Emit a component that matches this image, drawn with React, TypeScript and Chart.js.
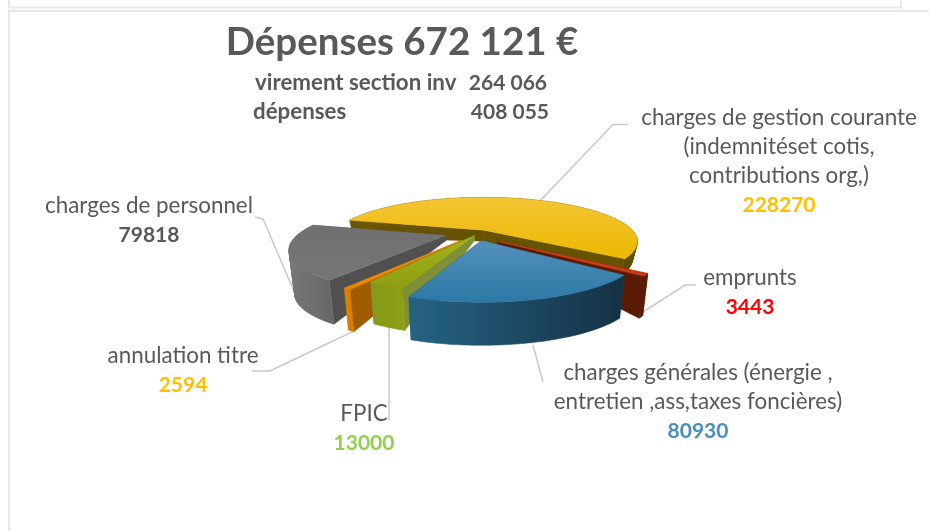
import React, { useEffect, useRef } from "react";
import { Chart, registerables } from "chart.js";

Chart.register(...registerables);

// ---- data ----
const categories = [
  "charges de gestion courante",
  "emprunts",
  "charges générales",
  "FPIC",
  "annulation titre",
  "charges de personnel",
];
const values = [228270, 3443, 80930, 13000, 2594, 79818];
const explode = [10, 48, 40, 20, 47, 50];
const lean = [0, 0.45, 0.25, 0, 0, 0];
const radiusScale = [1.025, 1, 1, 1, 1, 1];

const titleText = "Dépenses 672 121 €";
const subtitleRows = [
  ["virement section inv", "264 066"],
  ["dépenses", "408 055"],
];

// ---- styles ----
const topFrom = ["#F4C534", "#D8441A", "#5291BB", "#A3B41C", "#F29000", "#707070"];
const topTo = ["#ECB800", "#C43A10", "#2C78A6", "#8E9E10", "#E88400", "#767676"];
const faceFill = ["#665200", "#5A1B06", "#1C4A66", "#7F8F38", "#A05C00", "#505050"];
const rimFrom = ["#6B5600", "#5A1B06", "#256384", "#85981A", "#E58500", "#787878"];
const rimTo = ["#5E4C00", "#5A1B06", "#153144", "#8C9E14", "#D97C00", "#686868"];
const apexDepth = [11, 5, 5, 5, 5, 5];
const rimDepth = [17, 42, 43, 42, 42, 44];
const drawOrder = [0, 5, 1, 4, 3, 2];

const GREY = "#595959";
const LABEL_FONT = "22.4px Lato";
const NUMBER_FONT = "bold 21px Lato";
const SUBTITLE_FONT = "bold 22.3px Lato";
const labels = [
  { lines: ["charges de gestion courante", "(indemnitéset cotis,", "contributions org,)"], value: "228270", color: "#FFC000", x: 779, y: 118 },
  { lines: ["emprunts"], value: "3443", color: "#FF0000", x: 750, y: 278 },
  { lines: ["charges générales (énergie ,", "entretien ,ass,taxes foncières)"], value: "80930", color: "#4A8FB8", x: 698, y: 373 },
  { lines: ["FPIC"], value: "13000", color: "#92D050", x: 364, y: 414 },
  { lines: ["annulation titre"], value: "2594", color: "#FFC000", x: 183, y: 356 },
  { lines: ["charges de personnel"], value: "79818", color: GREY, x: 149, y: 206 },
];
const leaders = [
  [[538, 203], [613, 124.5], [628, 124.5]],
  [[640, 314], [685, 285], [696, 285]],
  [[533, 345], [543, 382]],
  [[389, 325], [389, 420]],
  [[354, 331], [270, 371], [252, 371]],
  [[296, 296], [263, 219], [255, 217]],
];

// projection of the pie plane
const CX = 481;
const CY = 232;
const A = 146;
const B = 41;
const P = 0.25;
const EXPLODE_REF = 200;

function project(u: number, v: number) {
  const s = 1 / (1 - P * v);
  return { x: CX + A * u * s, y: CY + B * v * s };
}

const piePlugin = {
  id: "pie3d",
  beforeDraw(chart: any) {
    const ctx = chart.ctx;
    ctx.save();
    ctx.fillStyle = "#ffffff";
    ctx.fillRect(0, 0, chart.width, chart.height);
    ctx.strokeStyle = "#E8E8E8";
    ctx.lineWidth = 2;
    ctx.beginPath();
    ctx.moveTo(9, 0); ctx.lineTo(9, 7.5); ctx.lineTo(901, 7.5); ctx.lineTo(901, 0);
    ctx.moveTo(929, 11); ctx.lineTo(9, 11); ctx.lineTo(9, 531);
    ctx.stroke();
    ctx.strokeStyle = "#C9C9C9";
    ctx.lineWidth = 1.5;
    leaders.forEach((pts) => {
      ctx.beginPath();
      pts.forEach((p, i) => (i ? ctx.lineTo(p[0], p[1]) : ctx.moveTo(p[0], p[1])));
      ctx.stroke();
    });
    ctx.restore();
  },
  beforeDatasetsDraw(chart: any) {
    const ctx = chart.ctx;
    const arcs = chart.getDatasetMeta(0).data;
    const shapes = arcs.map((el: any, i: number) => {
      const { startAngle, endAngle } = el.getProps(["startAngle", "endAngle"], true);
      const k = el.options.offset / EXPLODE_REF;
      const mid = (startAngle + endAngle) / 2 + lean[i];
      const ox = Math.cos(mid) * k;
      const oy = Math.sin(mid) * k;
      const rs = radiusScale[i];
      const upper = (r: number, a: number) => project(ox + rs * r * Math.cos(a), oy + rs * r * Math.sin(a));
      const lower = (r: number, a: number) => {
        const p = upper(r, a);
        return {
          x: p.x - (p.x - CX) * 0.03 * r,
          y: p.y + apexDepth[i] + (rimDepth[i] - apexDepth[i]) * r,
        };
      };
      const steps = Math.max(4, Math.ceil((endAngle - startAngle) / 0.02));
      const angles: number[] = [];
      for (let s = 0; s <= steps; s++) angles.push(startAngle + ((endAngle - startAngle) * s) / steps);
      return { i, startAngle, endAngle, upper, lower, angles };
    });

    const tracePoly = (pts: { x: number; y: number }[]) => {
      pts.forEach((p, n) => (n ? ctx.lineTo(p.x, p.y) : ctx.moveTo(p.x, p.y)));
      ctx.closePath();
    };
    const paint = (fill: any) => {
      ctx.fillStyle = fill;
      ctx.strokeStyle = fill;
      ctx.lineWidth = 0.5;
      ctx.fill();
      ctx.stroke();
    };
    const fillPath = (pts: { x: number; y: number }[], fill: any) => {
      ctx.beginPath();
      tracePoly(pts);
      paint(fill);
    };
    const area = (pts: { x: number; y: number }[]) =>
      pts.reduce((sum, p, n) => {
        const q = pts[(n + 1) % pts.length];
        return sum + p.x * q.y - q.x * p.y;
      }, 0);

    ctx.save();
    // walls, back to front
    drawOrder.forEach((idx) => {
      const s = shapes[idx];
      const { upper, lower, angles, startAngle, endAngle, i } = s;
      [startAngle, endAngle].forEach((a: number) => {
        fillPath([upper(0, a), upper(1, a), lower(1, a), lower(0, a)], faceFill[i]);
      });
      const xs = angles.map((a: number) => upper(1, a).x);
      const g = ctx.createLinearGradient(Math.min(...xs), 0, Math.max(...xs), 0);
      g.addColorStop(0, rimFrom[i]);
      g.addColorStop(1, rimTo[i]);
      // all rim quads in one path with one winding, so folds neither cancel nor leave seams
      ctx.beginPath();
      for (let n = 0; n < angles.length - 1; n++) {
        const a = angles[n];
        const b = angles[n + 1];
        const quad = [upper(1, a), upper(1, b), lower(1, b), lower(1, a)];
        tracePoly(area(quad) < 0 ? quad.reverse() : quad);
      }
      paint(g);
    });
    // top surfaces
    drawOrder.forEach((idx) => {
      const { upper, angles, i } = shapes[idx];
      const pts = [upper(0, angles[0]), ...angles.map((a: number) => upper(1, a))];
      const ys = pts.map((p: any) => p.y);
      const g = ctx.createLinearGradient(0, Math.min(...ys), 0, Math.max(...ys));
      g.addColorStop(0, topFrom[i]);
      g.addColorStop(1, topTo[i]);
      fillPath(pts, g);
    });
    ctx.restore();
    return false;
  },
  afterDraw(chart: any) {
    const ctx = chart.ctx;
    ctx.save();
    ctx.textBaseline = "middle";
    ctx.fillStyle = GREY;
    ctx.textAlign = "center";
    ctx.font = "bold 38.5px Lato";
    ctx.fillText(titleText, 402, 43);
    ctx.font = SUBTITLE_FONT;
    ctx.textAlign = "left";
    ctx.fillText(subtitleRows[0][0], 255, 83);
    ctx.fillText(subtitleRows[1][0], 253, 112);
    ctx.font = NUMBER_FONT;
    ctx.textAlign = "right";
    ctx.fillText(subtitleRows[0][1], 547, 83);
    ctx.fillText(subtitleRows[1][1], 549, 112);
    ctx.textAlign = "center";
    labels.forEach((l) => {
      ctx.font = LABEL_FONT;
      ctx.fillStyle = GREY;
      l.lines.forEach((t, n) => ctx.fillText(t, l.x, l.y + n * 29));
      ctx.font = NUMBER_FONT;
      ctx.fillStyle = l.color;
      ctx.fillText(l.value, l.x, l.y + l.lines.length * 29);
    });
    ctx.restore();
  },
};

export default function App() {
  const ref = useRef<HTMLCanvasElement>(null);
  useEffect(() => {
    const chart = new Chart(ref.current as HTMLCanvasElement, {
      type: "pie",
      data: {
        labels: categories,
        datasets: [{ data: values, offset: explode, backgroundColor: topTo, borderWidth: 0 }],
      },
      options: {
        responsive: false,
        animation: false,
        rotation: 285,
        events: [],
        plugins: { legend: { display: false }, tooltip: { enabled: false } },
      },
      plugins: [piePlugin],
    } as any);
    return () => chart.destroy();
  }, []);
  return (
    <div style={{ position: "fixed", left: 0, top: 0, width: 929, height: 531 }}>
      <canvas ref={ref} width={929} height={531} style={{ display: "block" }} />
    </div>
  );
}
